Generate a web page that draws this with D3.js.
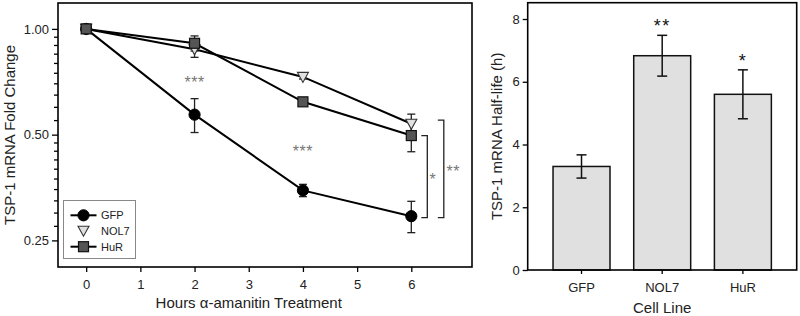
<!DOCTYPE html>
<html>
<head>
<meta charset="utf-8">
<script src="https://cdn.jsdelivr.net/npm/d3@7"></script>
<style>
  body { margin: 0; background: #fff; }
  svg { display: block; font-family: "Liberation Sans", Arial, sans-serif; }
  .axis text { font-size: 13px; fill: #222; }
  .axis line { stroke: #000; stroke-width: 1.3; }
  .axis path { display: none; }
</style>
</head>
<body>
<div id="chart"></div>
<script>
// ---- decay time course (left panel) ----
let hours = [0, 2, 4, 6];
let gfpMean = [1.0, 0.57, 0.347, 0.293];
let gfpErr = [0.015, 0.063, 0.014, 0.03];
let nol7Mean = [1.0, 0.875, 0.73, 0.537];
let nol7Err = [0.015, 0.045, 0.01, 0.035];
let hurMean = [1.0, 0.91, 0.62, 0.497];
let hurErr = [0.015, 0.045, 0.01, 0.05];
let xTicks = [0, 1, 2, 3, 4, 5, 6];
let yMajor = [0.25, 0.5, 1.0];
let yMinor = [0.275, 0.3, 0.325, 0.35, 0.375, 0.4, 0.425, 0.45, 0.475,
              0.55, 0.6, 0.65, 0.7, 0.75, 0.8, 0.85, 0.9, 0.95];
// significance labels at time points
let sigHours = [2, 4];
let sigVals = [0.72, 0.457];
// brackets at 6 h: [top value, bottom value, label]
let bracketTop = [0.497, 0.55];
let bracketBottom = [0.293, 0.293];
let bracketLabel = ["*", "**"];

// ---- half-life (right panel) ----
let cellLines = ["GFP", "NOL7", "HuR"];
let halfLife = [3.3, 6.83, 5.6];
let halfLifeErr = [0.37, 0.65, 0.78];
let halfLifeSig = ["", "**", "*"];
let yTicksR = [0, 2, 4, 6, 8];

const W = 800, H = 316;
const svg = d3.select("#chart").append("svg")
    .attr("width", W)
    .attr("height", H);

/* ================= left panel ================= */
const L = { left: 58, right: 472, top: 3, bottom: 267 };

const x = d3.scaleLinear()
    .domain([-0.52, 7.12])
    .range([L.left, L.right]);

const y = d3.scaleLog()
    .domain([0.21, 1.185])
    .range([L.bottom, L.top]);

// x axis
svg.append("g")
    .attr("class", "axis")
    .attr("transform", "translate(0," + L.bottom + ")")
    .call(d3.axisBottom(x).tickValues(xTicks).tickSize(5).tickSizeOuter(0).tickPadding(8).tickFormat(d3.format("d")));

// y axis major + minor
svg.append("g")
    .attr("class", "axis")
    .attr("transform", "translate(" + L.left + ",0)")
    .call(d3.axisLeft(y).tickValues(yMajor).tickSize(6).tickSizeOuter(0).tickPadding(3).tickFormat(d3.format(".2f")));

svg.append("g")
    .attr("class", "axis")
    .attr("transform", "translate(" + L.left + ",0)")
    .call(d3.axisLeft(y).tickValues(yMinor).tickSize(4).tickSizeOuter(0).tickFormat(""));

// frame
svg.append("rect")
    .attr("x", L.left).attr("y", L.top)
    .attr("width", L.right - L.left).attr("height", L.bottom - L.top)
    .attr("fill", "none").attr("stroke", "#000").attr("stroke-width", 1.6);

// axis titles
svg.append("text")
    .attr("x", (x(0) + x(6)) / 2)
    .attr("y", 308)
    .attr("text-anchor", "middle")
    .attr("font-size", 15)
    .attr("fill", "#222")
    .text("Hours α-amanitin Treatment");

svg.append("text")
    .attr("transform", "translate(15," + (L.top + L.bottom) / 2 + ") rotate(-90)")
    .attr("text-anchor", "middle")
    .attr("font-size", 15)
    .attr("fill", "#222")
    .text("TSP-1 mRNA Fold Change");

const series = [
    { name: "GFP", mean: gfpMean, err: gfpErr, shape: "circle" },
    { name: "NOL7", mean: nol7Mean, err: nol7Err, shape: "triangle" },
    { name: "HuR", mean: hurMean, err: hurErr, shape: "square" }
];

const line = d3.line()
    .x(d => x(d.h))
    .y(d => y(d.v));

// lines
series.forEach(function (s) {
    let pts = hours.map((h, i) => ({ h: h, v: s.mean[i], e: s.err[i] }));
    s.pts = pts;
    svg.append("path")
        .datum(pts)
        .attr("d", line)
        .attr("fill", "none")
        .attr("stroke", "#000")
        .attr("stroke-width", 2);
});

// error bars
series.forEach(function (s) {
    let g = svg.append("g").attr("stroke", "#222").attr("stroke-width", 1.3);
    g.selectAll("line.v").data(s.pts).join("line")
        .attr("x1", d => x(d.h)).attr("x2", d => x(d.h))
        .attr("y1", d => y(d.v + d.e)).attr("y2", d => y(d.v - d.e));
    g.selectAll("line.t").data(s.pts).join("line")
        .attr("x1", d => x(d.h) - 4).attr("x2", d => x(d.h) + 4)
        .attr("y1", d => y(d.v + d.e)).attr("y2", d => y(d.v + d.e));
    g.selectAll("line.b").data(s.pts).join("line")
        .attr("x1", d => x(d.h) - 4).attr("x2", d => x(d.h) + 4)
        .attr("y1", d => y(d.v - d.e)).attr("y2", d => y(d.v - d.e));
});

function drawMarker(sel, shape, cx, cy) {
    if (shape === "circle") {
        sel.append("circle").attr("cx", cx).attr("cy", cy).attr("r", 5.6)
            .attr("fill", "#000").attr("stroke", "#000");
    } else if (shape === "square") {
        sel.append("rect").attr("x", cx - 5).attr("y", cy - 5)
            .attr("width", 10).attr("height", 10)
            .attr("fill", "#555").attr("stroke", "#111").attr("stroke-width", 1.2);
    } else {
        sel.append("path")
            .attr("d", "M" + (cx - 5.5) + "," + (cy - 4.5) + "L" + (cx + 5.5) + "," + (cy - 4.5) + "L" + cx + "," + (cy + 5.5) + "Z")
            .attr("fill", "#e0e0e0").attr("stroke", "#333").attr("stroke-width", 1.1);
    }
}

// markers (triangle first so squares sit on top at 0 h)
[series[1], series[0], series[2]].forEach(function (s) {
    let g = svg.append("g");
    s.pts.forEach(d => drawMarker(g, s.shape, x(d.h), y(d.v)));
});

// *** labels
sigHours.forEach(function (h, i) {
    svg.append("text")
        .attr("x", x(h))
        .attr("y", y(sigVals[i]) + 9)
        .attr("text-anchor", "middle")
        .attr("font-size", 16)
        .attr("letter-spacing", 0.5)
        .attr("fill", "#777")
        .text("***");
});

// brackets
bracketTop.forEach(function (t, i) {
    let bx = x(6) + 16 + i * 16.5;
    let yt = y(t), yb = y(bracketBottom[i]) + 1.5;
    svg.append("path")
        .attr("d", "M" + (bx - 6) + "," + yt + "H" + bx + "V" + yb + "H" + (bx - 6))
        .attr("fill", "none").attr("stroke", "#222").attr("stroke-width", 1.3);
    svg.append("text")
        .attr("x", bx + 5.5 + i * 4)
        .attr("y", (yt + yb) / 2 + 8)
        .attr("text-anchor", "middle")
        .attr("font-size", 16)
        .attr("letter-spacing", 0.5)
        .attr("fill", "#777")
        .text(bracketLabel[i]);
});

// legend
const leg = svg.append("g");
leg.append("rect")
    .attr("x", 63.5).attr("y", 200.5).attr("width", 72).attr("height", 58)
    .attr("fill", "#fff").attr("stroke", "#888").attr("stroke-width", 1);
let legY = [215.3, 230.7, 246.7];
series.forEach(function (s, i) {
    if (s.shape !== "triangle") {
        leg.append("line")
            .attr("x1", 70.5).attr("x2", 96.5)
            .attr("y1", legY[i]).attr("y2", legY[i])
            .attr("stroke", "#000").attr("stroke-width", 2);
    }
    drawMarker(leg, s.shape, 83.5, legY[i]);
    leg.append("text")
        .attr("x", 101).attr("y", legY[i] + 4)
        .attr("font-size", 11)
        .attr("fill", "#222")
        .text(s.name);
});

/* ================= right panel ================= */
const R = { left: 527.7, right: 796.7, top: 2.7, bottom: 270 };

const xb = d3.scaleBand()
    .domain(cellLines)
    .range([R.left, R.right])
    .paddingInner(0.294)
    .paddingOuter(0.314);

const yb = d3.scaleLinear()
    .domain([0, 8.52])
    .range([R.bottom, R.top]);

svg.append("g")
    .attr("class", "axis")
    .attr("transform", "translate(0," + R.bottom + ")")
    .call(d3.axisBottom(xb).tickSize(4).tickSizeOuter(0).tickPadding(9));

svg.append("g")
    .attr("class", "axis")
    .attr("transform", "translate(" + R.left + ",0)")
    .call(d3.axisLeft(yb).tickValues(yTicksR).tickSize(5).tickSizeOuter(0).tickPadding(3));

svg.selectAll("rect.bar")
    .data(cellLines)
    .join("rect")
    .attr("class", "bar")
    .attr("x", d => xb(d))
    .attr("y", (d, i) => yb(halfLife[i]))
    .attr("width", xb.bandwidth())
    .attr("height", (d, i) => yb(0) - yb(halfLife[i]))
    .attr("fill", "#e0e0e0")
    .attr("stroke", "#111")
    .attr("stroke-width", 1.5);

const eb = svg.append("g").attr("stroke", "#111").attr("stroke-width", 1.5);
cellLines.forEach(function (c, i) {
    let cx = xb(c) + xb.bandwidth() / 2;
    let hi = yb(halfLife[i] + halfLifeErr[i]), lo = yb(halfLife[i] - halfLifeErr[i]);
    eb.append("line").attr("x1", cx).attr("x2", cx).attr("y1", hi).attr("y2", lo);
    eb.append("line").attr("x1", cx - 5).attr("x2", cx + 5).attr("y1", hi).attr("y2", hi);
    eb.append("line").attr("x1", cx - 5).attr("x2", cx + 5).attr("y1", lo).attr("y2", lo);
    if (halfLifeSig[i]) {
        svg.append("text")
            .attr("x", cx)
            .attr("y", hi - 3)
            .attr("text-anchor", "middle")
            .attr("font-size", 18)
            .attr("letter-spacing", 1.5)
            .attr("fill", "#111")
            .text(halfLifeSig[i]);
    }
});

svg.append("rect")
    .attr("x", R.left).attr("y", R.top)
    .attr("width", R.right - R.left).attr("height", R.bottom - R.top)
    .attr("fill", "none").attr("stroke", "#000").attr("stroke-width", 1.6);

svg.append("text")
    .attr("x", (R.left + R.right) / 2)
    .attr("y", 313)
    .attr("text-anchor", "middle")
    .attr("font-size", 15)
    .attr("fill", "#222")
    .text("Cell Line");

svg.append("text")
    .attr("transform", "translate(502," + (R.top + R.bottom) / 2 + ") rotate(-90)")
    .attr("text-anchor", "middle")
    .attr("font-size", 15)
    .attr("fill", "#222")
    .text("TSP-1 mRNA Half-life (h)");
</script>
</body>
</html>
